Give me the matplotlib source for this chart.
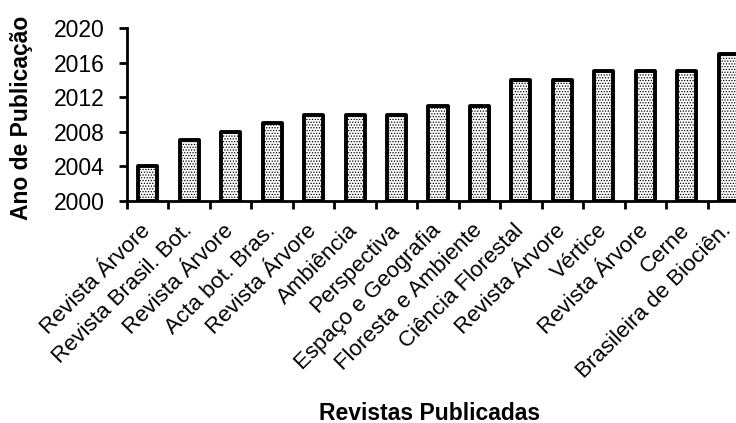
import matplotlib
matplotlib.use("Agg")
import matplotlib.pyplot as plt
import numpy as np

categories = ["Revista Árvore", "Revista Brasil. Bot.", "Revista Árvore", "Acta bot. Bras.",
              "Revista Árvore", "Ambiência", "Perspectiva", "Espaço e Geografia",
              "Floresta e Ambiente", "Ciência Florestal", "Revista Árvore", "Vértice",
              "Revista Árvore", "Cerne", "Brasileira de Biociên."]
years = [2004, 2007, 2008, 2009, 2010, 2010, 2010, 2011, 2011, 2014, 2014, 2015, 2015, 2015, 2017]
yticks = [2000, 2004, 2008, 2012, 2016, 2020]

plt.rcParams['font.family'] = ['Liberation Sans', 'DejaVu Sans']
plt.rcParams['hatch.linewidth'] = 0.6

FS = 16.5

fig = plt.figure(figsize=(7.36, 4.23), dpi=100)
ax = fig.add_axes([127/736, 1-201/423, 622/736, (201-28)/423])

x = np.arange(len(categories))
bars = ax.bar(x, [y - 2000 for y in years], bottom=2000, width=0.46, color='white',
              edgecolor='black', linewidth=2.8, hatch='......', zorder=3)
for b in bars:
    b.set_joinstyle('round')

ax.set_xlim(-0.5, len(categories) - 0.5)
ax.set_ylim(2000, 2020)
ax.set_yticks(yticks)
ax.set_yticklabels([str(t) for t in yticks], fontsize=FS)

ax.set_xticks(x)
ax.set_xticklabels(categories, rotation=45, ha='right', va='center',
                   rotation_mode='anchor', fontsize=16)
ax.tick_params(axis='x', length=0, pad=19)
ax.set_xticks(np.arange(len(categories) + 1) - 0.5, minor=True)
ax.tick_params(axis='x', which='minor', length=6, width=2, direction='out')
ax.tick_params(axis='y', length=6, width=2, direction='out', pad=10)

for s in ['top', 'right']:
    ax.spines[s].set_visible(False)
for s in ['left', 'bottom']:
    ax.spines[s].set_linewidth(2)

fig.text(22/736, 1-118/423, "Ano de Publicação", rotation=90, fontsize=FS, fontweight='bold',
         ha='center', va='center')
fig.text(430/736, 1-413/423, "Revistas Publicadas", fontsize=FS, fontweight='bold',
         ha='center', va='center')

fig.savefig("out.png", dpi=100)
